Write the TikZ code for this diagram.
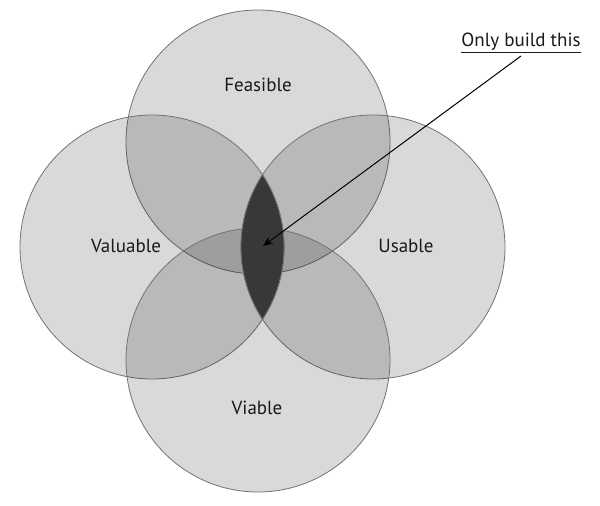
\documentclass[tikz,border=0pt]{standalone}
\usepackage{fontspec}
\setmainfont{PT Sans}
\usetikzlibrary{arrows.meta}
\begin{document}
\begin{tikzpicture}[x=1pt,y=-1pt,
  circ/.style={fill=black!93,fill opacity=0.16,draw=black!55,line width=0.8pt,draw opacity=1},
  lbl/.style={font=\fontsize{19}{22}\selectfont,text=black!90}]
\useasboundingbox (0,0) rectangle (600,506);
\draw[circ] (258,142) circle (132);
\draw[circ] (152,247) circle (132);
\draw[circ] (373,247) circle (132);
\draw[circ] (258,360) circle (132);
\begin{scope}
\clip (152,247) circle (132);
\fill[black!78] (373,247) circle (132);
\end{scope}
\begin{scope}
\clip (152,247) circle (132);
\draw[black!55,line width=0.8pt] (373,247) circle (132);
\end{scope}
\begin{scope}
\clip (373,247) circle (132);
\draw[black!55,line width=0.8pt] (152,247) circle (132);
\end{scope}
\node[lbl] (fe) at (258,85) {Feasible};
\node[lbl] (va) at (126,246) {Valuable};
\node[lbl] (us) at (406,246) {Usable};
\node[lbl] (vi) at (257,408) {Viable};
\node[lbl,anchor=south] (ob) at (521,56) {\underline{Only build this}};
\coordinate (tip) at (263,246);
\draw[-{Stealth[length=10pt,width=8pt]},line width=1pt] (ob.south) -- (tip);
\end{tikzpicture}
\end{document}
